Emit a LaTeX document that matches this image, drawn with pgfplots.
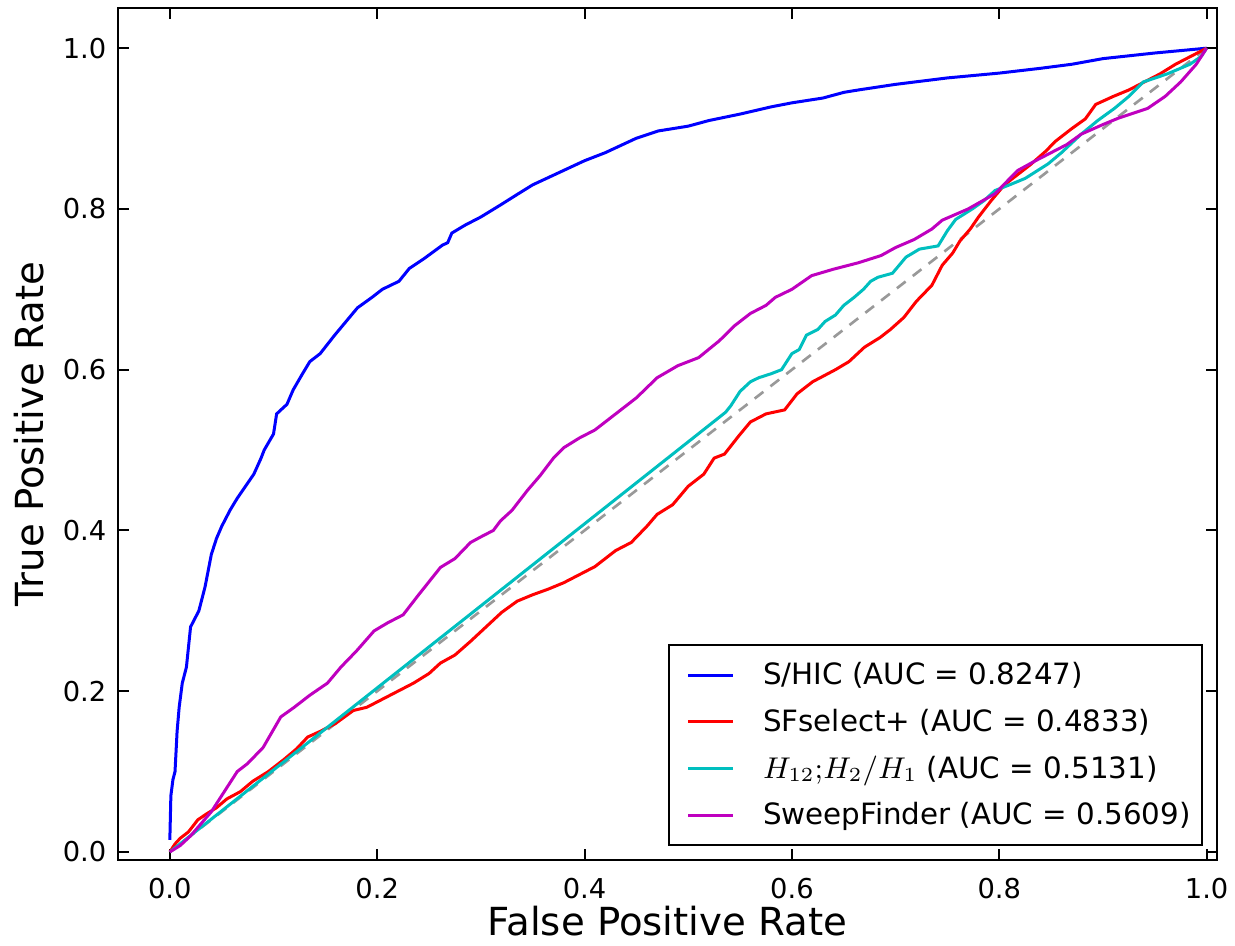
\documentclass[border=0pt]{standalone}
\usepackage{fontspec}
\setmainfont{DejaVu Sans}
\usepackage{pgfplots}
\pgfplotsset{compat=1.18}
\definecolor{mplblue}{rgb}{0,0,1}
\definecolor{mplred}{rgb}{1,0,0}
\definecolor{mplcyan}{rgb}{0,0.75,0.75}
\definecolor{mplmag}{rgb}{0.75,0,0.75}
\begin{document}
\begin{tikzpicture}
\begin{axis}[
    width=329.7pt, height=255.6pt, scale only axis,
    xmin=-0.05, xmax=1.01, ymin=-0.01, ymax=1.05,
    xtick={0,0.2,0.4,0.6,0.8,1.0},
    ytick={0,0.2,0.4,0.6,0.8,1.0},
    tick pos=both, tick align=inside,
    major tick length=3.2pt,
    axis line style={line width=0.6pt},
    every tick/.style={black, line width=0.6pt},
    /pgf/number format/fixed,
    /pgf/number format/fixed zerofill,
    /pgf/number format/precision=1,
    /pgf/number format/assume math mode=true,
    ticklabel style={font=\fontsize{8.2}{9.8}\selectfont},
    xticklabel style={yshift=-1.8pt},
    label style={font=\fontsize{11.6}{13.9}\selectfont},
    xlabel={False Positive Rate},
    ylabel={True Positive Rate},
    xlabel style={at={(axis description cs:0.5,-0.072)}, anchor=center},
    ylabel style={at={(axis description cs:-0.081,0.5)}, anchor=center},
    legend image code/.code={
        \path[draw=none, fill=none] (-2.4pt,0pt) -- (22.5pt,0pt);
        \draw[#1, line width=0.9pt] (0pt,0pt) -- (13.5pt,0pt);
    },
    legend cell align=left,
    legend style={
        at={(0.987,0.0164)}, anchor=south east,
        draw=black, line width=0.6pt, fill=white,
        font=\fontsize{8.8}{10.5}\selectfont,
        inner xsep=3.3pt, inner ysep=3pt, row sep=2pt,
        nodes={inner xsep=0pt, inner ysep=1.5pt, text height=7.4pt, text depth=1.6pt},
    },
]
% chance diagonal
\addplot[black!40, line width=0.8pt, dash pattern=on 3.3pt off 2.7pt, forget plot]
    coordinates {(0,0) (1,1)};

\addplot[mplblue, line width=0.9pt] coordinates {
(0,0.015)(0.001,0.07)(0.003,0.09)(0.005,0.1)(0.007,0.15)(0.009,0.18)(0.012,0.21)
(0.016,0.23)(0.02,0.28)(0.028,0.30)(0.034,0.33)(0.04,0.37)(0.045,0.39)(0.05,0.405)
(0.058,0.425)(0.065,0.44)(0.073,0.455)(0.081,0.47)(0.088,0.49)(0.091,0.50)(0.1,0.52)
(0.103,0.545)(0.113,0.557)(0.119,0.575)(0.128,0.595)(0.135,0.61)(0.145,0.62)
(0.159,0.643)(0.17,0.66)(0.181,0.677)(0.195,0.69)(0.205,0.70)(0.221,0.71)(0.231,0.726)
(0.245,0.738)(0.263,0.755)(0.268,0.758)(0.272,0.77)(0.285,0.78)(0.3,0.79)(0.319,0.805)
(0.335,0.818)(0.35,0.83)(0.37,0.842)(0.4,0.86)(0.42,0.87)(0.45,0.888)(0.471,0.897)
(0.5,0.903)(0.52,0.91)(0.55,0.918)(0.58,0.927)(0.6,0.932)(0.63,0.938)(0.65,0.945)
(0.664,0.948)(0.7,0.955)(0.75,0.963)(0.8,0.969)(0.84,0.975)(0.87,0.98)(0.9,0.987)
(0.95,0.994)(1.0,1.0)
};
\addlegendentry{S/HIC (AUC = 0.8247)}

\addplot[mplred, line width=0.9pt] coordinates {
(0,0)(0.005,0.01)(0.01,0.017)(0.018,0.025)(0.027,0.04)(0.035,0.047)(0.045,0.055)
(0.055,0.066)(0.068,0.075)(0.08,0.088)(0.095,0.1)(0.11,0.115)(0.122,0.128)(0.133,0.143)
(0.145,0.15)(0.16,0.16)(0.177,0.176)(0.19,0.18)(0.205,0.19)(0.22,0.2)(0.235,0.21)
(0.25,0.222)(0.261,0.235)(0.275,0.245)(0.29,0.262)(0.305,0.28)(0.32,0.298)(0.335,0.312)
(0.35,0.32)(0.365,0.327)(0.38,0.335)(0.395,0.345)(0.41,0.355)(0.43,0.375)(0.445,0.385)
(0.46,0.405)(0.47,0.42)(0.485,0.432)(0.5,0.455)(0.515,0.47)(0.525,0.49)(0.535,0.495)
(0.549,0.518)(0.56,0.535)(0.575,0.545)(0.593,0.55)(0.605,0.57)(0.62,0.585)(0.642,0.6)
(0.655,0.61)(0.67,0.628)(0.685,0.64)(0.695,0.65)(0.708,0.665)(0.72,0.685)(0.735,0.705)
(0.745,0.73)(0.755,0.745)(0.762,0.76)(0.772,0.775)(0.78,0.79)(0.792,0.81)(0.805,0.83)
(0.815,0.84)(0.83,0.855)(0.845,0.872)(0.854,0.884)(0.87,0.9)(0.883,0.912)(0.893,0.93)
(0.91,0.94)(0.925,0.948)(0.94,0.958)(0.955,0.968)(0.97,0.98)(0.985,0.99)(1,1)
};
\addlegendentry{SFselect+ (AUC = 0.4833)}

\addplot[mplcyan, line width=0.9pt] coordinates {
(0,0)(0.536,0.547)(0.541,0.555)(0.55,0.573)(0.56,0.585)(0.568,0.59)(0.58,0.595)
(0.59,0.6)(0.6,0.62)(0.607,0.625)(0.614,0.643)(0.625,0.65)(0.632,0.66)(0.642,0.668)
(0.65,0.68)(0.66,0.69)(0.669,0.70)(0.676,0.71)(0.683,0.715)(0.697,0.72)(0.71,0.74)
(0.723,0.75)(0.741,0.754)(0.75,0.773)(0.758,0.787)(0.774,0.80)(0.785,0.81)(0.796,0.823)
(0.81,0.83)(0.825,0.838)(0.847,0.856)(0.86,0.87)(0.879,0.893)(0.895,0.91)(0.911,0.925)
(0.925,0.94)(0.939,0.958)(0.962,0.968)(0.984,0.98)(0.995,0.99)(1,1)
};
\addlegendentry{$H_{12}{;}H_2/H_1$ (AUC = 0.5131)}

\addplot[mplmag, line width=0.9pt] coordinates {
(0,0)(0.01,0.008)(0.02,0.02)(0.03,0.035)(0.04,0.05)(0.05,0.07)(0.065,0.1)(0.075,0.11)
(0.09,0.13)(0.107,0.168)(0.12,0.18)(0.135,0.195)(0.152,0.21)(0.165,0.23)(0.18,0.25)
(0.197,0.275)(0.21,0.285)(0.225,0.295)(0.24,0.32)(0.261,0.354)(0.275,0.365)(0.29,0.385)
(0.3,0.392)(0.312,0.40)(0.319,0.412)(0.33,0.425)(0.345,0.45)(0.357,0.468)(0.37,0.49)
(0.38,0.503)(0.395,0.515)(0.41,0.525)(0.425,0.54)(0.45,0.565)(0.47,0.59)(0.49,0.605)
(0.51,0.615)(0.53,0.636)(0.545,0.655)(0.56,0.67)(0.575,0.68)(0.584,0.69)(0.6,0.7)
(0.619,0.717)(0.64,0.725)(0.664,0.733)(0.686,0.742)(0.7,0.752)(0.718,0.762)(0.735,0.775)
(0.745,0.786)(0.77,0.8)(0.796,0.819)(0.808,0.835)(0.818,0.848)(0.835,0.86)(0.85,0.87)
(0.865,0.88)(0.879,0.893)(0.9,0.905)(0.915,0.913)(0.943,0.925)(0.96,0.94)(0.975,0.958)
(0.99,0.98)(1,1)
};
\addlegendentry{SweepFinder (AUC = 0.5609)}
\end{axis}
\pgfresetboundingbox
\path (-35.4pt,-25.8pt) rectangle (335.1pt,258pt);
\end{tikzpicture}
\end{document}
